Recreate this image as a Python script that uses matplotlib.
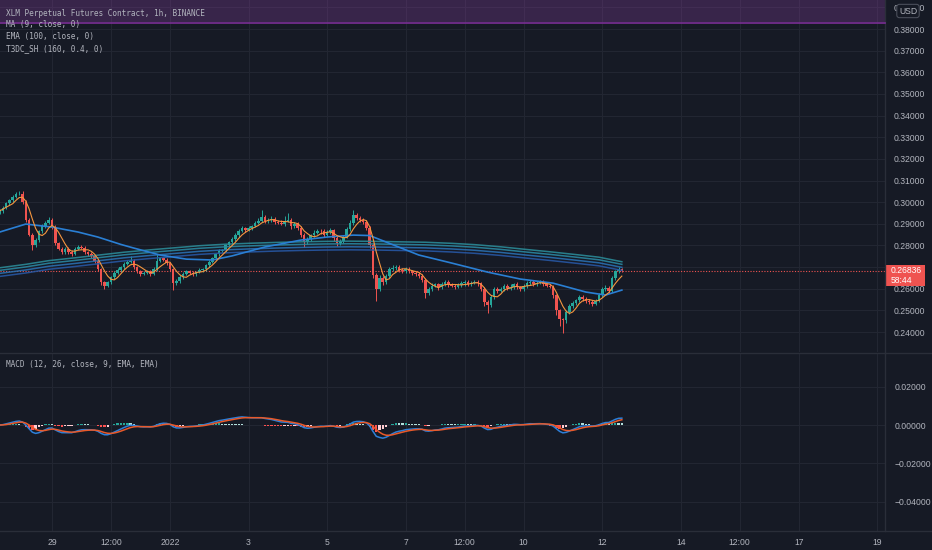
import numpy as np
import pandas as pd
import matplotlib
matplotlib.use("Agg")
import matplotlib.pyplot as plt
import matplotlib.dates as mdates
from matplotlib.patches import Rectangle
from matplotlib.lines import Line2D
from matplotlib.transforms import blended_transform_factory

# --- data (2h candles) ---
start_time = "2021-12-27 16:00"
first_open = 0.2950
closes = [
    0.2960, 0.2975, 0.2995, 0.3010, 0.3025, 0.3038, 0.3040, 0.3000, 0.2920, 0.2850,
    0.2800, 0.2825, 0.2865, 0.2890, 0.2905, 0.2920, 0.2885, 0.2810, 0.2785, 0.2770,
    0.2785, 0.2770, 0.2760, 0.2785, 0.2795, 0.2790, 0.2770, 0.2760, 0.2750, 0.2730,
    0.2690, 0.2630, 0.2615, 0.2630, 0.2655, 0.2675, 0.2685, 0.2700, 0.2715, 0.2725,
    0.2730, 0.2700, 0.2680, 0.2670, 0.2675, 0.2680, 0.2670, 0.2690, 0.2730, 0.2740,
    0.2735, 0.2720, 0.2690, 0.2625, 0.2635, 0.2655, 0.2670, 0.2680, 0.2675, 0.2668,
    0.2678, 0.2685, 0.2690, 0.2710, 0.2725, 0.2740, 0.2760, 0.2775, 0.2780, 0.2800,
    0.2815, 0.2830, 0.2850, 0.2868, 0.2880, 0.2872, 0.2880, 0.2890, 0.2905, 0.2915,
    0.2930, 0.2912, 0.2918, 0.2922, 0.2910, 0.2905, 0.2900, 0.2915, 0.2920, 0.2890,
    0.2900, 0.2880, 0.2850, 0.2815, 0.2830, 0.2848, 0.2860, 0.2868, 0.2865, 0.2850,
    0.2862, 0.2870, 0.2835, 0.2812, 0.2822, 0.2840, 0.2875, 0.2905, 0.2940, 0.2925,
    0.2918, 0.2910, 0.2880, 0.2800, 0.2665, 0.2600, 0.2650, 0.2630, 0.2660, 0.2690,
    0.2698, 0.2702, 0.2688, 0.2682, 0.2692, 0.2680, 0.2675, 0.2670, 0.2660, 0.2640,
    0.2582, 0.2600, 0.2615, 0.2620, 0.2608, 0.2622, 0.2632, 0.2620, 0.2615, 0.2610,
    0.2618, 0.2625, 0.2632, 0.2620, 0.2628, 0.2632, 0.2625, 0.2600, 0.2540, 0.2525,
    0.2560, 0.2598, 0.2592, 0.2600, 0.2612, 0.2602, 0.2610, 0.2622, 0.2608, 0.2600,
    0.2612, 0.2625, 0.2632, 0.2622, 0.2628, 0.2632, 0.2622, 0.2615, 0.2610, 0.2570,
    0.2500, 0.2460, 0.2455, 0.2495, 0.2520, 0.2535, 0.2548, 0.2562, 0.2555, 0.2545,
    0.2540, 0.2532, 0.2545, 0.2572, 0.2598, 0.2605, 0.2592, 0.2648, 0.2680, 0.2690,
    0.26836,
]
# wick lengths beyond the body, in 1e-4
wick_hi = [
    8, 6, 7, 6, 9, 8, 14, 10, 8, 6,
    7, 9, 6, 8, 7, 10, 6, 8, 5, 7,
    9, 6, 7, 10, 8, 6, 7, 5, 8, 6,
    7, 6, 5, 8, 6, 7, 9, 6, 8, 7,
    20, 6, 7, 5, 8, 6, 7, 9, 30, 8,
    6, 7, 5, 6, 8, 7, 9, 6, 7, 8,
    6, 9, 7, 6, 10, 8, 7, 9, 6, 8,
    7, 9, 6, 8, 10, 7, 8, 6, 9, 12,
    35, 10, 8, 14, 9, 7, 12, 20, 30, 8,
    10, 7, 8, 6, 9, 7, 10, 8, 6, 9,
    8, 10, 6, 7, 8, 9, 10, 12, 25, 10,
    9, 8, 7, 9, 10, 8, 12, 8, 10, 9,
    12, 8, 10, 9, 7, 8, 9, 6, 8, 7,
    9, 8, 10, 7, 9, 8, 10, 7, 8, 9,
    7, 10, 8, 9, 7, 8, 10, 7, 6, 8,
    9, 10, 8, 7, 9, 8, 10, 7, 8, 6,
    8, 9, 10, 7, 8, 9, 7, 6, 8, 7,
    8, 7, 6, 9, 8, 10, 7, 9, 8, 6,
    8, 7, 9, 10, 8, 12, 9, 10, 8, 12,
    8,
]
wick_lo = [
    6, 8, 7, 6, 8, 7, 6, 9, 10, 8,
    20, 8, 7, 6, 8, 7, 9, 10, 8, 9,
    7, 8, 10, 6, 7, 8, 9, 7, 8, 9,
    10, 12, 15, 8, 7, 9, 6, 8, 7, 6,
    8, 9, 7, 10, 6, 8, 9, 7, 6, 8,
    7, 9, 10, 30, 8, 7, 9, 6, 8, 7,
    8, 7, 9, 6, 8, 7, 6, 8, 7, 9,
    6, 8, 7, 9, 6, 10, 7, 8, 6, 7,
    8, 10, 7, 9, 10, 8, 7, 9, 8, 12,
    9, 10, 12, 20, 8, 7, 9, 8, 10, 9,
    8, 7, 12, 15, 8, 9, 7, 8, 10, 9,
    8, 10, 9, 12, 15, 55, 10, 12, 8, 9,
    8, 9, 10, 7, 9, 8, 10, 9, 8, 10,
    25, 9, 10, 8, 12, 9, 8, 10, 9, 12,
    8, 9, 10, 8, 9, 7, 10, 12, 20, 35,
    10, 8, 12, 9, 10, 8, 9, 12, 10, 8,
    9, 8, 7, 10, 9, 8, 10, 9, 8, 12,
    20, 30, 60, 12, 10, 9, 8, 10, 12, 9,
    10, 12, 9, 8, 10, 9, 12, 8, 7, 9,
    6,
]

# EMA(100) read at candle indices
ema_idx = [0, 8, 16, 24, 30, 37, 41, 49, 57, 65, 71, 81, 92, 100, 108, 113,
           118, 128, 138, 149, 159, 169, 179, 185, 190]
ema_vals = [0.2862, 0.2899, 0.2885, 0.2862, 0.2839, 0.2805, 0.2788, 0.2756,
            0.2737, 0.2733, 0.2752, 0.2793, 0.2825, 0.2839, 0.2848, 0.2846,
            0.2816, 0.2756, 0.2719, 0.2677, 0.2645, 0.2626, 0.2585, 0.2571,
            0.2594]

# T3DC band centre and line offsets
t3_idx = [0, 8, 15, 23, 31, 38, 46, 54, 61, 69, 76, 84, 92, 99, 107, 115,
          122, 130, 138, 145, 153, 160, 168, 176, 183, 190]
t3_mid = [0.2677, 0.2693, 0.2710, 0.2723, 0.2737, 0.2749, 0.2760, 0.2770,
          0.2779, 0.2786, 0.2790, 0.2794, 0.2797, 0.2799, 0.2800, 0.2799,
          0.2797, 0.2795, 0.2790, 0.2784, 0.2774, 0.2763, 0.2751, 0.2738,
          0.2726, 0.2705]
t3_offsets = [0.0020, 0.0008, -0.0006, -0.0020]
t3_colors = ["#2b8a97", "#2a86a0", "#2a6fb0", "#2757a3"]

last_price = 0.26836
countdown = "58:44"

tick_times = ["2021-12-29 00:00", "2021-12-30 12:00", "2022-01-01 00:00",
              "2022-01-03 00:00", "2022-01-05 00:00", "2022-01-07 00:00",
              "2022-01-08 12:00", "2022-01-10 00:00", "2022-01-12 00:00",
              "2022-01-14 00:00", "2022-01-15 12:00", "2022-01-17 00:00",
              "2022-01-19 00:00"]
tick_labels = ["29", "12:00", "2022", "3", "5", "7", "12:00", "10", "12",
               "14", "12:00", "17", "19"]
price_ticks = [0.24, 0.25, 0.26, 0.27, 0.28, 0.29, 0.30, 0.31, 0.32, 0.33,
               0.34, 0.35, 0.36, 0.37, 0.38, 0.39]
macd_ticks = [0.02, 0.0, -0.02, -0.04]

title = "XLM Perpetual Futures Contract, 1h, BINANCE"
legend = ["MA (9, close, 0)", "EMA (100, close, 0)", "T3DC_SH (160, 0.4, 0)"]
macd_legend = "MACD (12, 26, close, 9, EMA, EMA)"

# --- derived ---
BG = "#161a25"
GRID = "#232733"
TXT = "#b2b5be"
UP = "#26a69a"
DOWN = "#ef5350"

c = np.array(closes)
o = np.concatenate([[first_open], c[:-1]])
hi = np.maximum(o, c) + np.array(wick_hi) * 1e-4
lo = np.minimum(o, c) - np.array(wick_lo) * 1e-4
times = pd.date_range(start_time, periods=len(c), freq="2h")
x = mdates.date2num(times)

s = pd.Series(c)
ma = s.rolling(5, min_periods=1).mean()
macd = s.ewm(span=6, adjust=False).mean() - s.ewm(span=13, adjust=False).mean()
signal = macd.ewm(span=5, adjust=False).mean()
hist = (macd - signal).values

W, H = 932, 550


def rect(x0, y0, x1, y1):
    return [x0 / W, 1 - y1 / H, (x1 - x0) / W, (y1 - y0) / H]


fig = plt.figure(figsize=(W / 100, H / 100), dpi=100)
fig.patch.set_facecolor(BG)
ax = fig.add_axes(rect(0, 0, 885, 352))
axm = fig.add_axes(rect(0, 353, 885, 531), sharex=ax)

for a in (ax, axm):
    a.set_facecolor(BG)
    for sp in a.spines.values():
        sp.set_visible(False)
    a.grid(True, color=GRID, linewidth=0.7)
    a.set_axisbelow(True)
    a.yaxis.tick_right()
    a.tick_params(axis="both", length=0, labelcolor=TXT, labelsize=6.2)

# candles
col = np.where(c >= o, UP, DOWN)
body_h = np.maximum(np.abs(c - o), 0.00012)
ax.vlines(x, lo, hi, colors=col, linewidth=0.7, zorder=2)
ax.bar(x, body_h, bottom=np.minimum(o, c), width=0.066, color=col, linewidth=0, zorder=2)

# T3DC bands
t3x = x[np.array(t3_idx)]
for off, cl in zip(t3_offsets, t3_colors):
    ax.plot(t3x, np.array(t3_mid) + off, color=cl, linewidth=1.1, alpha=0.9, zorder=3)

# EMA and MA
ax.plot(x[np.array(ema_idx)], ema_vals, color="#2a7fd4", linewidth=1.2, zorder=4)
ax.plot(x, ma, color="#f5963f", linewidth=0.8, zorder=5)

# last price line
ax.axhline(last_price, color=DOWN, linewidth=0.8, linestyle=(0, (1, 1.5)), zorder=1)

ax.set_ylim(0.2308, 0.3934)
ax.set_yticks(price_ticks)
ax.set_yticklabels([f"{v:.5f}" for v in price_ticks], family="Liberation Sans")
ax.tick_params(axis="y", pad=6)
ax.tick_params(axis="x", labelbottom=False)

# MACD pane
hcol = []
for i, v in enumerate(hist):
    prev = hist[i - 1] if i > 0 else 0
    if v >= 0:
        hcol.append("#26a69a" if v >= prev else "#b2dfdb")
    else:
        hcol.append("#ffcdd2" if v >= prev else "#ff5252")
axm.bar(x, hist, width=0.06, color=hcol, linewidth=0, zorder=2)
axm.plot(x, macd, color="#2d7fd8", linewidth=1.1, zorder=3)
axm.plot(x, signal, color="#e8592a", linewidth=1.1, zorder=4)
axm.set_ylim(-0.0553, 0.0376)
axm.set_yticks(macd_ticks)
axm.set_yticklabels([f"{v:.5f}".replace("-", "\u2212") for v in macd_ticks],
                    family="Liberation Sans")
axm.tick_params(axis="y", pad=7)

tick_nums = mdates.date2num(pd.to_datetime(tick_times, format="%Y-%m-%d %H:%M"))
axm.set_xticks(tick_nums)
axm.set_xticklabels(tick_labels, family="Liberation Sans")
axm.tick_params(axis="x", pad=5)
t0 = pd.Timestamp("2021-12-28")
axm.set_xlim(mdates.date2num(t0 + pd.Timedelta(hours=-7.76)),
             mdates.date2num(t0 + pd.Timedelta(hours=532.7)))

# separators
for (x0, y0, x1, y1) in [(0, 352.5, W, 352.5), (0, 531, W, 531), (885, 0, 885, 531)]:
    fig.add_artist(Line2D([x0 / W, x1 / W], [1 - y0 / H, 1 - y1 / H],
                          color="#2a2e39", linewidth=1.0))

# header band
fig.add_artist(Rectangle((0, 1 - 22 / H), 885 / W, 22 / H, transform=fig.transFigure,
                         facecolor="#8a3fa0", alpha=0.3, linewidth=0))
fig.add_artist(Line2D([0, 885 / W], [1 - 22.5 / H, 1 - 22.5 / H], color="#7a2f95", linewidth=1.2))

mono = "DejaVu Sans Mono"
fig.text(6 / W, 1 - 13 / H, title, family=mono, size=5.6, color=TXT, va="center")
for k, t in enumerate(legend):
    fig.text(6 / W, 1 - (25 + 11.6 * k) / H, t, family=mono, size=5.6, color=TXT, va="center")
fig.text(6 / W, 1 - 365 / H, macd_legend, family=mono, size=5.6, color=TXT, va="center")

# last price label (covers the 0.27 scale label, as in the reference)
tr = blended_transform_factory(ax.transAxes, ax.transData)
px = 1 / 885
py = 0.01 / 21.64
ax.add_patch(Rectangle((1.0, last_price - 15 * py), 40 * px, 21 * py, transform=tr,
                       facecolor=DOWN, linewidth=0, clip_on=False, zorder=6))
ax.text(1.0 + 6 * px, last_price, f"{last_price:.5f}", transform=tr, color="white",
        size=6.2, va="center", family="Liberation Sans", zorder=7, clip_on=False)
ax.text(1.0 + 6 * px, last_price - 10 * py, countdown, transform=tr, color="white",
        size=6.2, va="center", family="Liberation Sans", zorder=7, clip_on=False)

# currency badge
fig.text(908 / W, 1 - 11 / H, "USD", ha="center", va="center", size=6.2, color=TXT,
         family="Liberation Sans",
         bbox=dict(boxstyle="round,pad=0.25,rounding_size=0.3", facecolor=BG,
                   edgecolor="#4a4e5a", linewidth=0.8))

fig.savefig("out.png", dpi=100, facecolor=BG)
